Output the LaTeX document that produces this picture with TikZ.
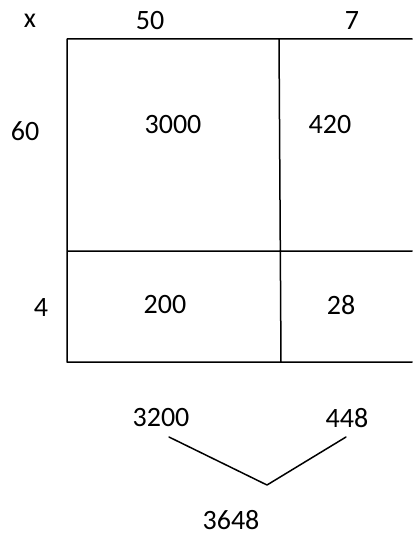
\documentclass[tikz,border=0pt]{standalone}
\usepackage{fontspec}
\setmainfont{Carlito}
\begin{document}
\begin{tikzpicture}[x=1pt,y=-1pt,line join=round,line cap=round,line width=1.5pt,
	num/.style={font=\fontsize{28}{33}\selectfont,inner sep=0pt}]
	\useasboundingbox (0,0) rectangle (412,535);
	\path 
	(67,39)coordinate(TL)
	(412,39)coordinate(TR)
	(67,362)coordinate(BL)
	(412,362)coordinate(BR)
	(67,251)coordinate(ML)
	(412,251)coordinate(MR)
	(279,39)coordinate(TM)
	(281,362)coordinate(BM)
	(169,437)coordinate(P)
	(267,485)coordinate(V)
	(346,437)coordinate(Q)
	;
	\draw (TR)--(TL)--(BL)--(BR) (ML)--(MR) (TM)--(BM);
	\draw (P)--(V)--(Q);
	\node[num] (times) at (30,21) {x};
	\node[num] (ten) at (150,21) {50};
	\node[num] (one) at (352,21) {7};
	\node[num] (sixty) at (25,131) {60};
	\node[num] (four) at (41,308) {4};
	\node[num] (a) at (173,125) {3000};
	\node[num] (b) at (330,125) {420};
	\node[num] (c) at (165,305) {200};
	\node[num] (d) at (341,305) {28};
	\node[num] (sumL) at (161,418) {3200};
	\node[num] (sumR) at (347,418) {448};
	\node[num] (total) at (231,520) {3648};
\end{tikzpicture}
\end{document}
